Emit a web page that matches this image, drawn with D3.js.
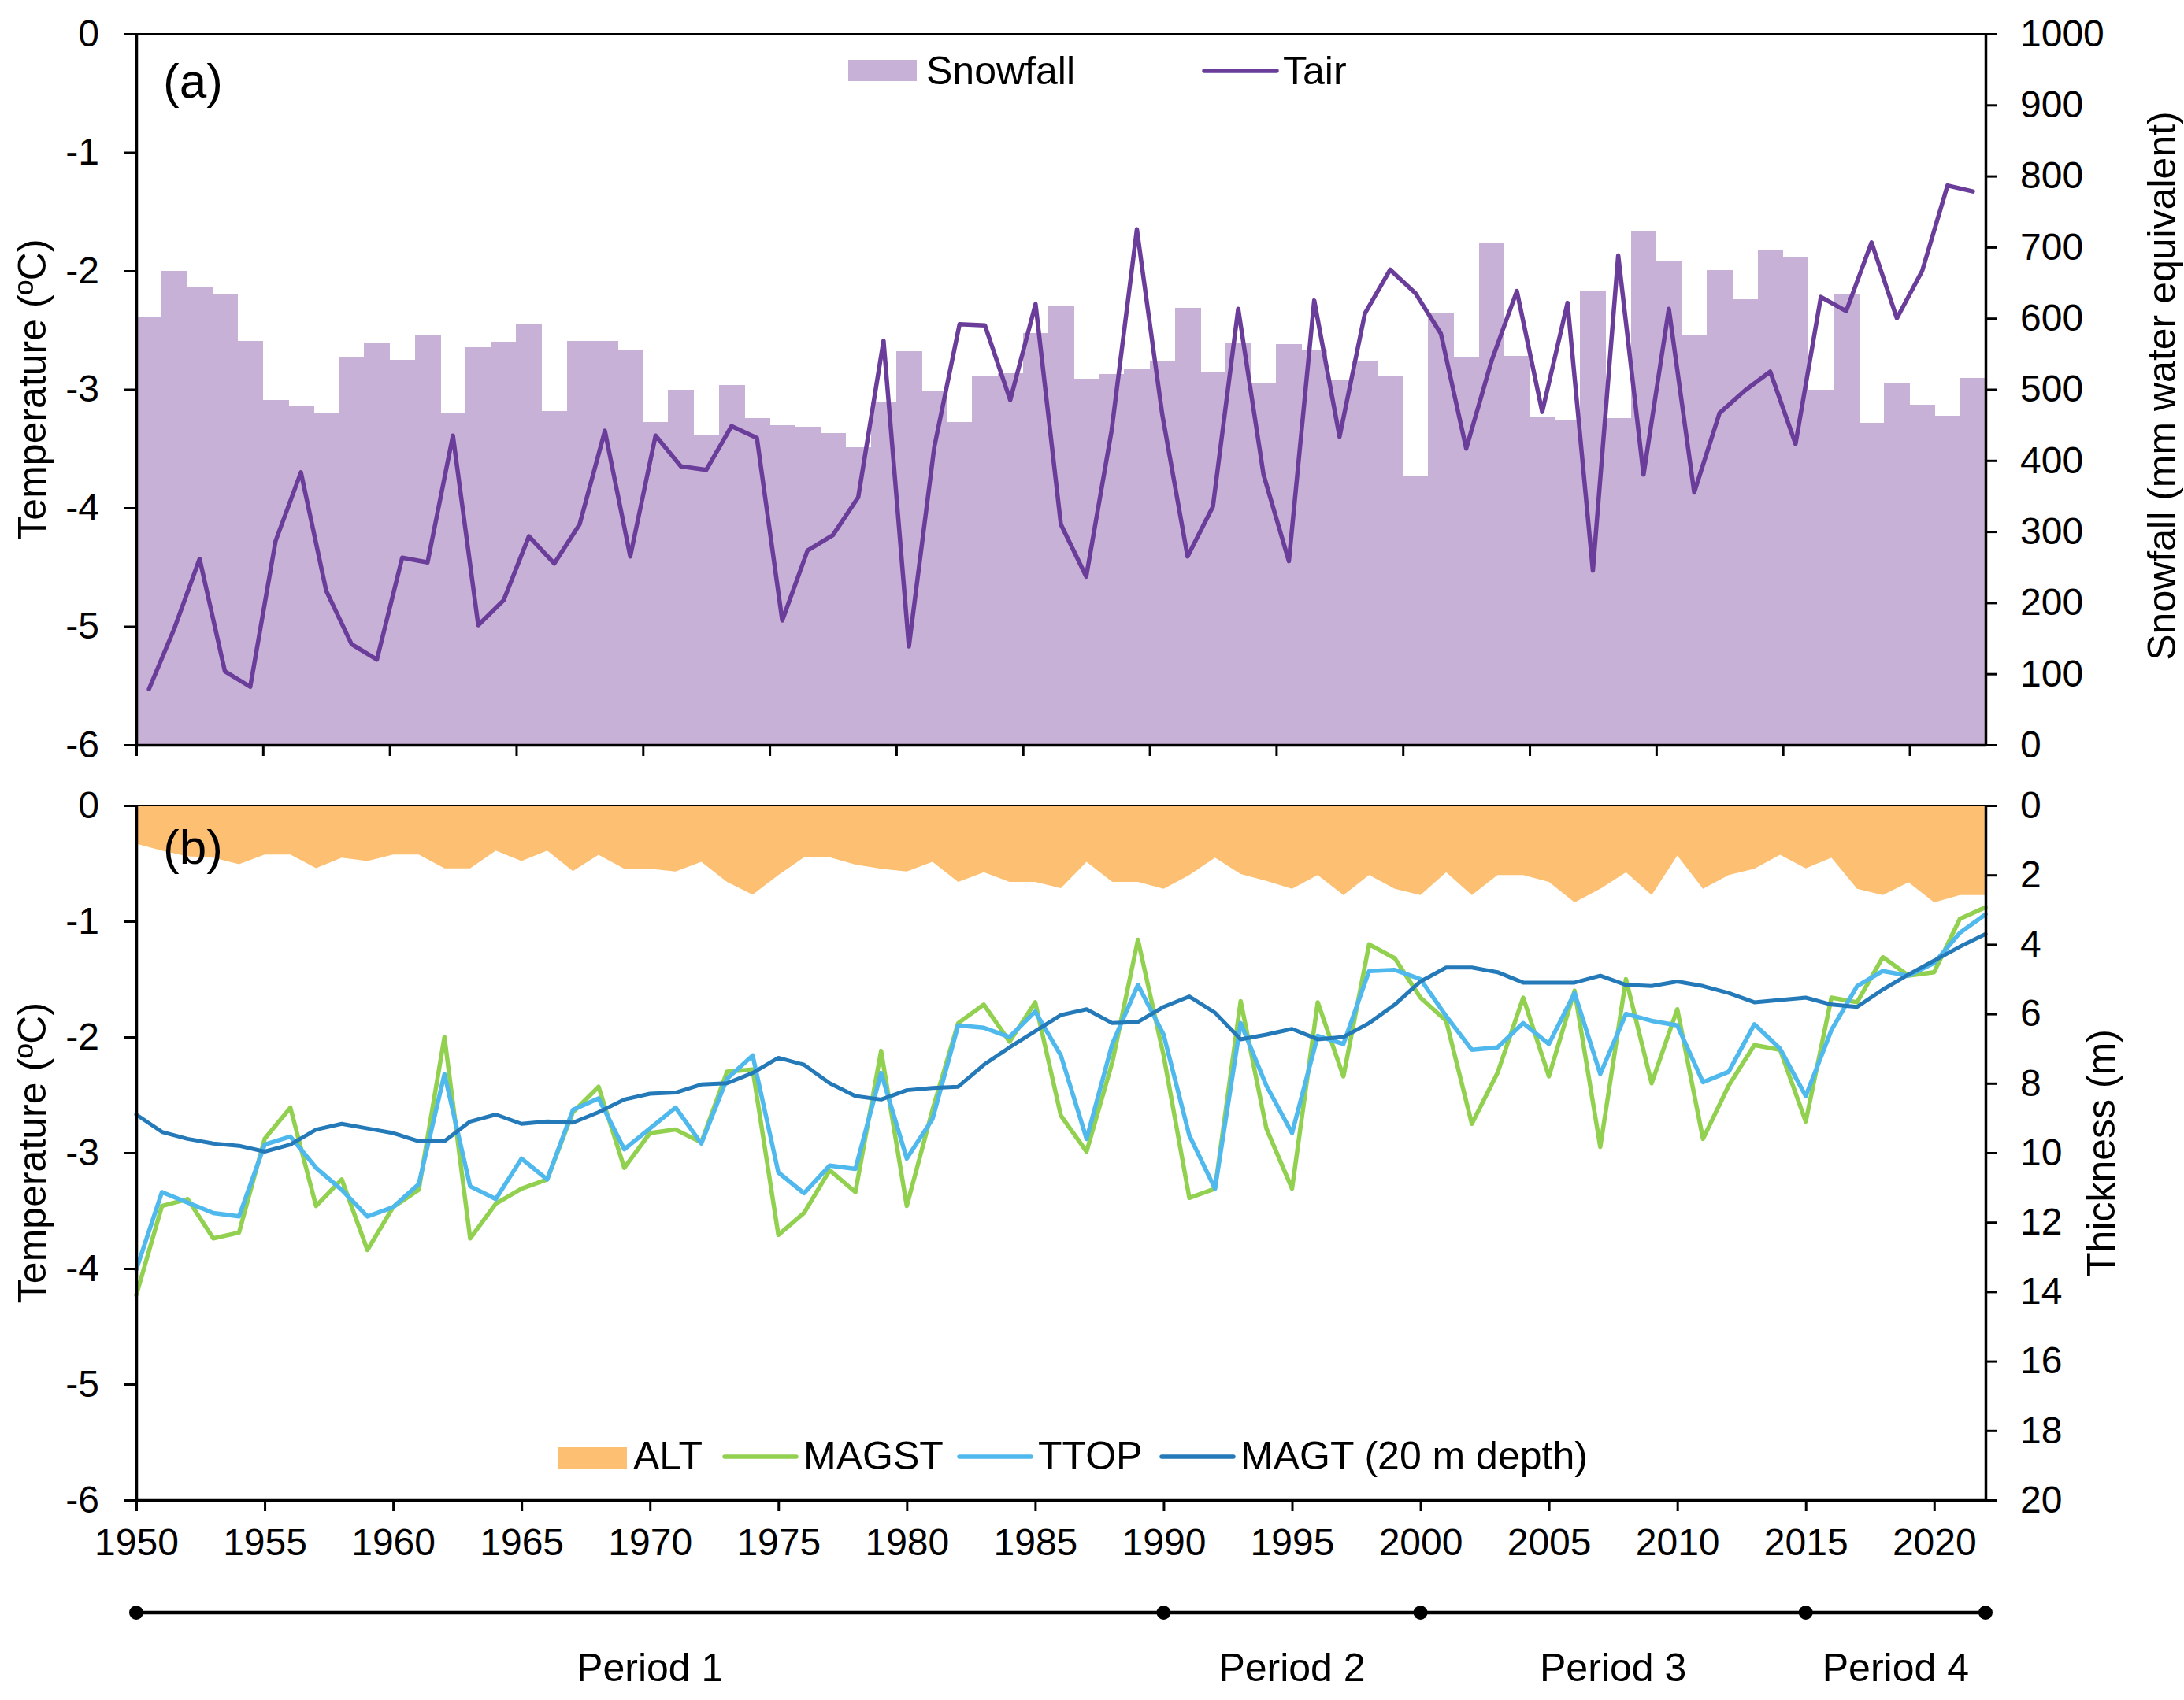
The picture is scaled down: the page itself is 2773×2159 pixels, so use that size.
<!DOCTYPE html>
<html lang="en">
<head>
    <meta charset="UTF-8">
    <title>Snowfall, air temperature and permafrost</title>
    <script src="https://cdn.jsdelivr.net/npm/d3@7"></script>
    <style>
        body {margin: 0; background: #fff;}
        svg text {font-family: "Liberation Sans", Arial, sans-serif; fill: #000;}
    </style>
</head>
<body>
    <div id="graf"></div>

    <script>
        const years = [1950, 1951, 1952, 1953, 1954, 1955, 1956, 1957, 1958, 1959,
            1960, 1961, 1962, 1963, 1964, 1965, 1966, 1967, 1968, 1969,
            1970, 1971, 1972, 1973, 1974, 1975, 1976, 1977, 1978, 1979,
            1980, 1981, 1982, 1983, 1984, 1985, 1986, 1987, 1988, 1989,
            1990, 1991, 1992, 1993, 1994, 1995, 1996, 1997, 1998, 1999,
            2000, 2001, 2002, 2003, 2004, 2005, 2006, 2007, 2008, 2009,
            2010, 2011, 2012, 2013, 2014, 2015, 2016, 2017, 2018, 2019,
            2020, 2021, 2022];

        // (a) snowfall in mm w.e., air temperature in degC
        const snowfall = [601, 667, 644, 633, 568, 485, 476, 467, 546, 566,
            541, 577, 467, 559, 567, 591, 469, 568, 568, 555,
            454, 500, 435, 506, 460, 450, 447, 439, 419, 483,
            554, 498, 454, 518, 523, 579, 618, 515, 522, 529,
            540, 615, 525, 565, 508, 564, 556, 514, 539, 519,
            379, 607, 546, 706, 547, 462, 457, 639, 460, 723,
            680, 576, 668, 627, 696, 687, 500, 634, 453, 508,
            478, 463, 516];
        const tair = [-5.53, -5.02, -4.43, -5.38, -5.51, -4.28, -3.70, -4.70, -5.15, -5.28,
            -4.42, -4.46, -3.39, -4.99, -4.78, -4.24, -4.47, -4.14, -3.35, -4.41,
            -3.39, -3.65, -3.68, -3.31, -3.41, -4.95, -4.36, -4.23, -3.91, -2.59,
            -5.17, -3.49, -2.45, -2.46, -3.09, -2.28, -4.14, -4.58, -3.35, -1.65,
            -3.21, -4.41, -3.99, -2.32, -3.72, -4.45, -2.25, -3.40, -2.36, -1.99,
            -2.19, -2.53, -3.50, -2.76, -2.17, -3.19, -2.27, -4.53, -1.87, -3.72,
            -2.32, -3.87, -3.20, -3.01, -2.85, -3.46, -2.22, -2.34, -1.76, -2.40,
            -2.00, -1.28, -1.33];

        // (b) active layer thickness in m, temperatures in degC
        const alt = [1.10, 1.30, 1.46, 1.50, 1.69, 1.41, 1.41, 1.80, 1.50, 1.60,
            1.41, 1.41, 1.81, 1.81, 1.30, 1.60, 1.30, 1.89, 1.42, 1.82,
            1.82, 1.90, 1.62, 2.20, 2.57, 2.00, 1.49, 1.49, 1.70, 1.82,
            1.90, 1.62, 2.20, 1.92, 2.20, 2.20, 2.38, 1.62, 2.20, 2.20,
            2.40, 2.00, 1.50, 1.97, 2.17, 2.40, 2.00, 2.58, 2.00, 2.40,
            2.58, 1.92, 2.58, 2.00, 2.00, 2.20, 2.79, 2.40, 1.92, 2.58,
            1.44, 2.40, 2.00, 1.82, 1.42, 1.81, 1.50, 2.40, 2.58, 2.21,
            2.79, 2.58, 2.58];
        const magst = [-4.23, -3.46, -3.40, -3.74, -3.69, -2.88, -2.61, -3.46, -3.23, -3.84,
            -3.47, -3.32, -2.00, -3.74, -3.44, -3.31, -3.23, -2.65, -2.43, -3.13,
            -2.83, -2.80, -2.91, -2.30, -2.28, -3.71, -3.52, -3.15, -3.34, -2.12,
            -3.46, -2.63, -1.88, -1.72, -2.04, -1.70, -2.68, -2.99, -2.22, -1.16,
            -2.16, -3.39, -3.31, -1.69, -2.79, -3.31, -1.70, -2.34, -1.20, -1.32,
            -1.66, -1.86, -2.75, -2.31, -1.66, -2.34, -1.60, -2.95, -1.50, -2.40,
            -1.76, -2.88, -2.42, -2.07, -2.11, -2.73, -1.66, -1.70, -1.31, -1.47,
            -1.44, -0.98, -0.88];
        const ttop = [-4.01, -3.34, -3.43, -3.52, -3.55, -2.93, -2.86, -3.13, -3.32, -3.55,
            -3.47, -3.27, -2.32, -3.29, -3.40, -3.05, -3.23, -2.63, -2.53, -2.97,
            -2.79, -2.61, -2.92, -2.36, -2.16, -3.17, -3.35, -3.11, -3.14, -2.31,
            -3.05, -2.71, -1.90, -1.92, -2.00, -1.78, -2.16, -2.88, -2.06, -1.55,
            -1.98, -2.85, -3.31, -1.88, -2.42, -2.83, -1.99, -2.06, -1.43, -1.42,
            -1.50, -1.82, -2.11, -2.09, -1.88, -2.06, -1.62, -2.32, -1.80, -1.86,
            -1.90, -2.39, -2.30, -1.89, -2.10, -2.51, -1.94, -1.56, -1.43, -1.47,
            -1.36, -1.10, -0.94];
        const magt = [-2.67, -2.82, -2.88, -2.92, -2.94, -2.99, -2.93, -2.80, -2.75, -2.79,
            -2.83, -2.90, -2.90, -2.73, -2.67, -2.75, -2.73, -2.74, -2.65, -2.54,
            -2.49, -2.48, -2.41, -2.40, -2.31, -2.18, -2.24, -2.40, -2.51, -2.54,
            -2.46, -2.44, -2.43, -2.24, -2.09, -1.95, -1.81, -1.76, -1.88, -1.87,
            -1.74, -1.65, -1.79, -2.02, -1.98, -1.93, -2.02, -2.00, -1.88, -1.72,
            -1.52, -1.40, -1.40, -1.44, -1.53, -1.53, -1.53, -1.47, -1.55, -1.56,
            -1.52, -1.56, -1.62, -1.70, -1.68, -1.66, -1.72, -1.74, -1.59, -1.46,
            -1.34, -1.22, -1.11];

        const periodBreaks = [1950, 1990, 2000, 2015, 2022];
        const periodNames = ["Period 1", "Period 2", "Period 3", "Period 4"];

        const tempTicks = [0, -1, -2, -3, -4, -5, -6];
        const snowTicks = [0, 100, 200, 300, 400, 500, 600, 700, 800, 900, 1000];
        const thickTicks = [0, 2, 4, 6, 8, 10, 12, 14, 16, 18, 20];
        const yearTicks = [1950, 1955, 1960, 1965, 1970, 1975, 1980, 1985, 1990, 1995, 2000, 2005, 2010, 2015, 2020];

        let width = 2773, height = 2159;
        let left = 173, right = 2521;
        let panelA = {top: 43, bottom: 946},
            panelB = {top: 1023, bottom: 1905};

        let col = {snow: "#c8b1d6", tair: "#6a3d9a", alt: "#fdbf71",
                   magst: "#92d050", ttop: "#4fb8ec", magt: "#2479b8"};

        let svg = d3.select("#graf")
            .append("svg")
            .attr("width", width)
            .attr("height", height);

        svg.append("rect").attr("width", width).attr("height", height).attr("fill", "#fff");

        // ---- panel (a) ----
        let xa = d3.scaleLinear().domain([0, years.length]).range([left, right]);
        let yaT = d3.scaleLinear().domain([-6, 0]).range([panelA.bottom, panelA.top]);
        let yaS = d3.scaleLinear().domain([0, 1000]).range([panelA.bottom, panelA.top]);

        svg.append("g").selectAll("rect")
            .data(snowfall)
            .join("rect")
            .attr("x", (d, i) => xa(i))
            .attr("width", (d, i) => xa(i + 1) - xa(i) + 0.6)
            .attr("y", d => yaS(d))
            .attr("height", d => yaS(0) - yaS(d))
            .attr("fill", col.snow)
            .attr("shape-rendering", "crispEdges");

        svg.append("path")
            .datum(tair)
            .attr("fill", "none")
            .attr("stroke", col.tair)
            .attr("stroke-width", 5.5)
            .attr("stroke-linejoin", "round")
            .attr("stroke-linecap", "round")
            .attr("d", d3.line()
                .x((d, i) => xa(i + 0.5))
                .y(d => yaT(d)));

        // ---- panel (b) ----
        let xb = d3.scaleLinear().domain([1950, 2022]).range([left, right]);
        let ybT = d3.scaleLinear().domain([-6, 0]).range([panelB.bottom, panelB.top]);
        let ybH = d3.scaleLinear().domain([0, 20]).range([panelB.top, panelB.bottom]);

        svg.append("path")
            .datum(alt)
            .attr("fill", col.alt)
            .attr("d", d3.area()
                .x((d, i) => xb(years[i]))
                .y0(ybH(0))
                .y1(d => ybH(d)));

        let lineB = d3.line()
            .x((d, i) => xb(years[i]))
            .y(d => ybT(d));

        [[magst, col.magst, 5.5], [ttop, col.ttop, 5.5], [magt, col.magt, 5]].forEach(function(s) {
            svg.append("path")
                .datum(s[0])
                .attr("fill", "none")
                .attr("stroke", s[1])
                .attr("stroke-width", s[2])
                .attr("stroke-linejoin", "round")
                .attr("stroke-linecap", "round")
                .attr("d", lineB);
        });

        // ---- axes ----
        function styleAxis(g, size) {
            g.select(".domain").attr("stroke", "#000").attr("stroke-width", 3.5);
            g.selectAll(".tick line").attr("stroke", "#000").attr("stroke-width", 3);
            g.selectAll(".tick text").attr("font-size", size || 48)
                .attr("font-family", "'Liberation Sans', Arial, sans-serif");
        }

        [[yaT, panelA], [ybT, panelB]].forEach(function(p) {
            svg.append("g")
                .attr("transform", "translate(" + left + ",0)")
                .call(d3.axisLeft(p[0]).tickValues(tempTicks).tickSize(16).tickSizeOuter(0)
                    .tickPadding(31).tickFormat(d => String(d)))
                .call(styleAxis);
            svg.append("line")
                .attr("x1", left).attr("x2", right)
                .attr("y1", p[1].top).attr("y2", p[1].top)
                .attr("stroke", "#000").attr("stroke-width", 2);
        });

        svg.append("g")
            .attr("transform", "translate(" + right + ",0)")
            .call(d3.axisRight(yaS).tickValues(snowTicks).tickSize(14).tickSizeOuter(0)
                .tickPadding(30).tickFormat(d => String(d)))
            .call(styleAxis);

        svg.append("g")
            .attr("transform", "translate(" + right + ",0)")
            .call(d3.axisRight(ybH).tickValues(thickTicks).tickSize(14).tickSizeOuter(0)
                .tickPadding(30).tickFormat(d => String(d)))
            .call(styleAxis);

        svg.append("g")
            .attr("transform", "translate(0," + panelA.bottom + ")")
            .call(d3.axisBottom(xa).tickValues(d3.range(0, 71, 5)).tickSize(14).tickSizeOuter(0)
                .tickFormat(""))
            .call(styleAxis);

        svg.append("g")
            .attr("transform", "translate(0," + panelB.bottom + ")")
            .call(d3.axisBottom(xb).tickValues(yearTicks).tickSize(14).tickSizeOuter(0)
                .tickPadding(22).tickFormat(d => String(d)))
            .call(styleAxis);

        // ---- axis titles ----
        function vTitle(x, y, txt) {
            svg.append("text")
                .attr("transform", "translate(" + x + "," + y + ") rotate(-90)")
                .attr("text-anchor", "middle")
                .attr("dominant-baseline", "central")
                .attr("font-size", 50)
                .text(txt);
        }
        vTitle(41, (panelA.top + panelA.bottom) / 2, "Temperature (ºC)");
        vTitle(41, (panelB.top + panelB.bottom) / 2, "Temperature (ºC)");
        vTitle(2745, 490, "Snowfall (mm water equivalent)");
        vTitle(2668, (panelB.top + panelB.bottom) / 2, "Thickness (m)");

        svg.append("text").attr("x", 207).attr("y", 124).attr("font-size", 62).text("(a)");
        svg.append("text").attr("x", 207).attr("y", 1097).attr("font-size", 62).text("(b)");

        // ---- legends ----
        svg.append("rect").attr("x", 1077).attr("y", 76).attr("width", 87).attr("height", 27).attr("fill", col.snow);
        svg.append("text").attr("x", 1176).attr("y", 107).attr("font-size", 50).text("Snowfall");
        svg.append("line").attr("x1", 1529).attr("x2", 1621).attr("y1", 90).attr("y2", 90)
            .attr("stroke", col.tair).attr("stroke-width", 5.5).attr("stroke-linecap", "round");
        svg.append("text").attr("x", 1629).attr("y", 107).attr("font-size", 50).text("Tair");

        svg.append("rect").attr("x", 709).attr("y", 1838).attr("width", 87).attr("height", 27).attr("fill", col.alt);
        svg.append("text").attr("x", 804).attr("y", 1866).attr("font-size", 50).text("ALT");
        let legB = [[920, "MAGST", col.magst], [1218, "TTOP", col.ttop], [1475, "MAGT (20 m depth)", col.magt]];
        legB.forEach(function(l) {
            svg.append("line").attr("x1", l[0]).attr("x2", l[0] + 91).attr("y1", 1850).attr("y2", 1850)
                .attr("stroke", l[2]).attr("stroke-width", 5.5).attr("stroke-linecap", "round");
            svg.append("text").attr("x", l[0] + 100).attr("y", 1866).attr("font-size", 50).text(l[1]);
        });

        // ---- periods ----
        let py = 2048;
        svg.append("line")
            .attr("x1", xb(periodBreaks[0])).attr("x2", xb(periodBreaks[periodBreaks.length - 1]))
            .attr("y1", py).attr("y2", py)
            .attr("stroke", "#000").attr("stroke-width", 4.5);
        svg.selectAll(".pdot")
            .data(periodBreaks)
            .join("circle")
            .attr("cx", d => xb(d)).attr("cy", py).attr("r", 9).attr("fill", "#000");
        svg.selectAll(".plab")
            .data(periodNames)
            .join("text")
            .attr("x", (d, i) => xb((periodBreaks[i] + periodBreaks[i + 1]) / 2))
            .attr("y", 2135)
            .attr("text-anchor", "middle")
            .attr("font-size", 50)
            .text(d => d);
    </script>
</body>
</html>
